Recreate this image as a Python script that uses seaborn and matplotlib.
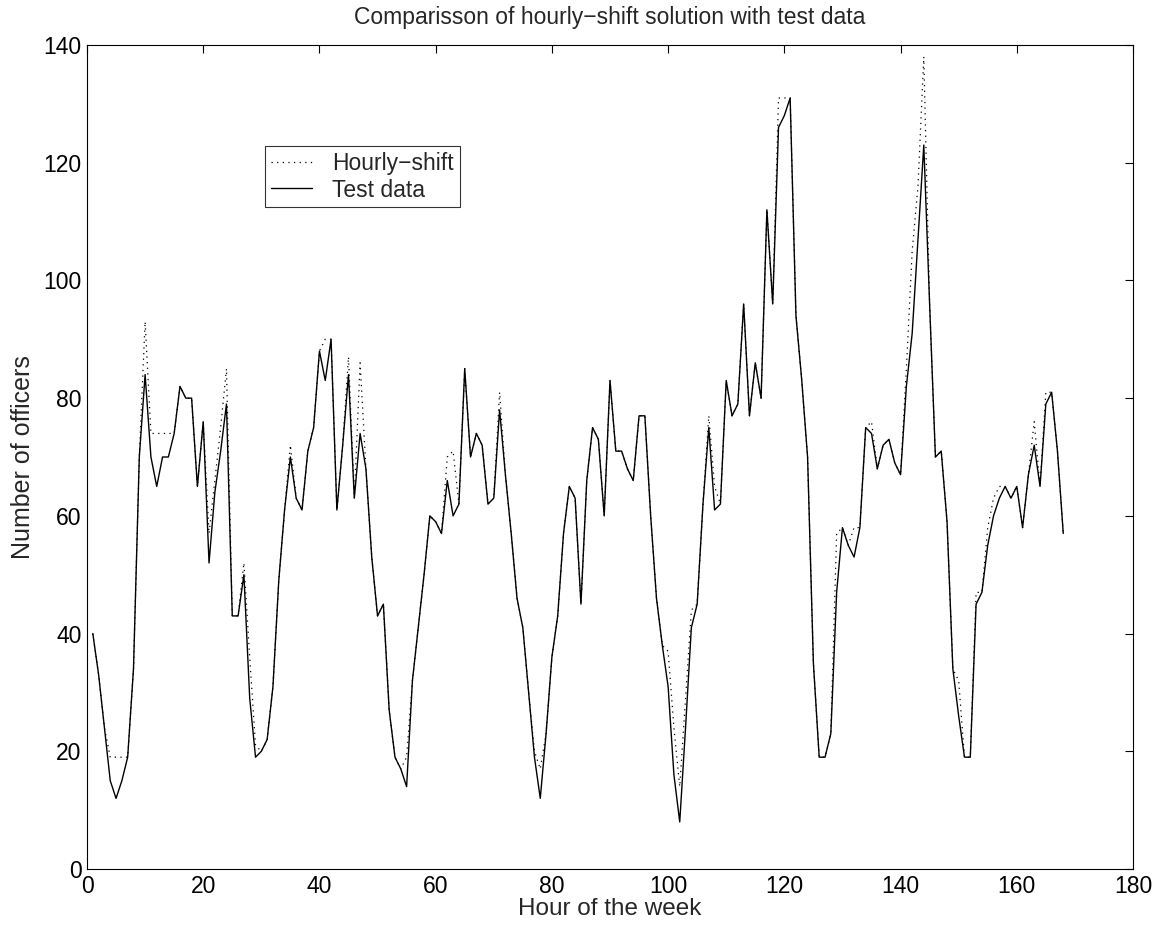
import numpy as np
import pandas as pd
import matplotlib
matplotlib.use("Agg")
import matplotlib.pyplot as plt
import seaborn as sns

hours = list(range(1, 169))

test_data = [
    40, 33, 24, 15, 12, 15, 19, 34, 70, 84,
    70, 65, 70, 70, 74, 82, 80, 80, 65, 76,
    52, 64, 71, 79, 43, 43, 50, 29, 19, 20,
    22, 31, 49, 61, 70, 63, 61, 71, 75, 88,
    83, 90, 61, 72, 84, 63, 74, 68, 53, 43,
    45, 27, 19, 17, 14, 32, 41, 50, 60, 59,
    57, 66, 60, 62, 85, 70, 74, 72, 62, 63,
    78, 67, 57, 46, 41, 30, 19, 12, 23, 36,
    43, 57, 65, 63, 45, 66, 75, 73, 60, 83,
    71, 71, 68, 66, 77, 77, 60, 46, 38, 31,
    16, 8, 24, 41, 45, 62, 75, 61, 62, 83,
    77, 79, 96, 77, 86, 80, 112, 96, 126, 128,
    131, 94, 83, 70, 35, 19, 19, 23, 47, 58,
    55, 53, 58, 75, 74, 68, 72, 73, 69, 67,
    82, 91, 107, 123, 96, 70, 71, 59, 34, 26,
    19, 19, 45, 47, 55, 60, 63, 65, 63, 65,
    58, 67, 72, 65, 79, 81, 71, 57,
]

hourly_shift = [
    40, 33, 24, 19, 19, 19, 19, 34, 70, 93,
    74, 74, 74, 74, 74, 82, 80, 80, 65, 76,
    57, 66, 75, 85, 43, 43, 52, 36, 21, 20,
    22, 31, 49, 61, 72, 63, 61, 71, 75, 88,
    90, 90, 61, 72, 87, 63, 86, 68, 53, 43,
    45, 27, 19, 17, 19, 32, 41, 50, 60, 59,
    57, 70, 71, 62, 85, 70, 74, 72, 62, 63,
    81, 67, 57, 46, 41, 30, 20, 17, 23, 36,
    43, 57, 65, 63, 45, 66, 75, 73, 60, 83,
    71, 71, 68, 66, 77, 77, 60, 46, 38, 37,
    24, 14, 29, 44, 45, 62, 77, 65, 62, 83,
    77, 79, 96, 77, 86, 80, 112, 96, 131, 131,
    131, 94, 83, 70, 35, 19, 19, 23, 57, 58,
    55, 58, 58, 75, 76, 68, 72, 73, 69, 67,
    85, 105, 116, 138, 96, 70, 71, 59, 34, 32,
    19, 19, 47, 47, 58, 63, 65, 65, 63, 65,
    58, 67, 76, 65, 81, 81, 71, 57,
]

x_ticks = [0, 20, 40, 60, 80, 100, 120, 140, 160, 180]
y_ticks = [0, 20, 40, 60, 80, 100, 120, 140]

title = "Comparisson of hourly\u2212shift solution with test data"
xlabel = "Hour of the week"
ylabel = "Number of officers"
label_hourly = "Hourly\u2212shift"
label_test = "Test data"

sns.set_theme(style="white")
plt.rcParams["font.family"] = ["Liberation Sans", "DejaVu Sans"]
plt.rcParams["axes.unicode_minus"] = True

fig = plt.figure(figsize=(11.63, 9.32), dpi=100)
ax = fig.add_axes([87 / 1163, 1 - 869 / 932, (1133 - 87) / 1163, (869 - 45) / 932])

df = pd.DataFrame({"hour": hours, "hourly": hourly_shift, "test": test_data})

sns.lineplot(data=df, x="hour", y="hourly", ax=ax, color="black",
             linewidth=0.9, linestyle=(0, (1, 3.5)), label=label_hourly)
sns.lineplot(data=df, x="hour", y="test", ax=ax, color="black",
             linewidth=1.0, label=label_test)

ax.set_xlim(0, 180)
ax.set_ylim(0, 140)
ax.set_xticks(x_ticks)
ax.set_yticks(y_ticks)
ax.tick_params(direction="in", length=6, width=0.8, top=True, right=True,
               labelsize=16.5, colors="black", pad=4)
for side in ["left", "right", "top", "bottom"]:
    ax.spines[side].set_visible(True)
    ax.spines[side].set_color("black")
    ax.spines[side].set_linewidth(0.8)

ax.set_xlabel(xlabel, fontsize=17.5, labelpad=0)
ax.set_ylabel(ylabel, fontsize=18, labelpad=6)
ax.set_title(title, fontsize=16.5, pad=15)

leg = ax.legend(loc="upper left", bbox_to_anchor=(0.170, 0.877), frameon=True,
                fancybox=False, edgecolor="black", fontsize=16.5,
                handlelength=1.8, borderpad=0.25, labelspacing=0.15,
                handletextpad=0.9, borderaxespad=0)
leg.get_frame().set_linewidth(0.8)

fig.savefig("out.png", dpi=100, facecolor="white")
